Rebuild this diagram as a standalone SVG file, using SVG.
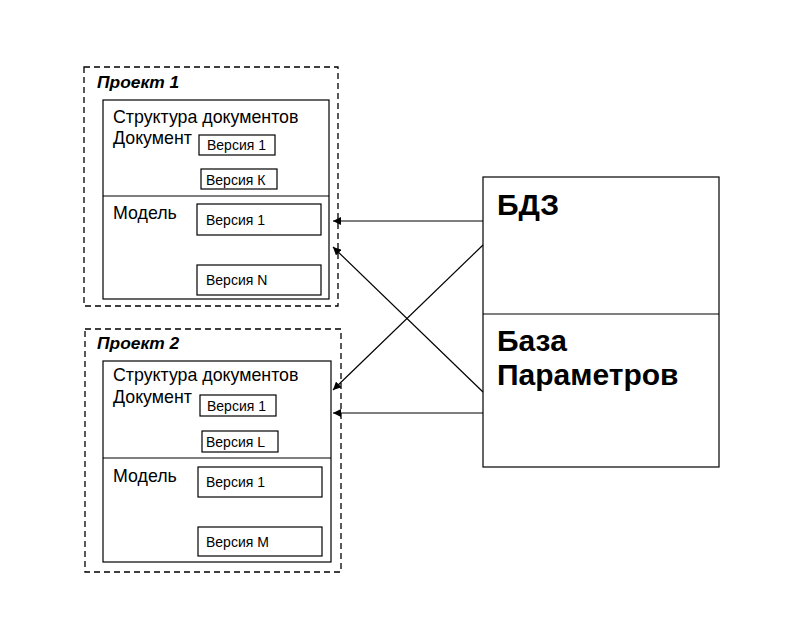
<svg xmlns="http://www.w3.org/2000/svg" width="800" height="627" viewBox="0 0 800 627">
<defs>
<style>
.dash{fill:none;stroke:#000;stroke-width:1.3;stroke-dasharray:6,4}
.box{fill:#fff;stroke:#000;stroke-width:1.2}
.ln{stroke:#000;stroke-width:1.2;fill:none}
.t{font-family:"Liberation Sans",Arial,sans-serif;fill:#000}
.ttl{font-size:17.4px;font-weight:bold;font-style:italic}
.lbl{font-size:17.8px}
.v{font-size:14px}
.big{font-size:30px;font-weight:bold}
.con{stroke:#000;stroke-width:1.2;fill:none;marker-end:url(#ah)}
</style>
<marker id="ah" viewBox="0 0 10 10" refX="10" refY="5" markerWidth="8" markerHeight="8" markerUnits="userSpaceOnUse" orient="auto">
<path d="M0,0 L10,5 L0,10 z" fill="#000"/>
</marker>
</defs>
<rect width="800" height="627" fill="#fff"/>
<g id="project1">
<rect class="dash" x="84" y="67" width="254" height="239"/>
<text class="t ttl" x="97" y="88">Проект 1</text>
<rect class="box" x="103" y="100" width="226" height="199"/>
<line class="ln" x1="103" y1="196" x2="329" y2="196"/>
<text class="t lbl" x="113" y="123">Структура документов</text>
<text class="t lbl" x="113" y="144">Документ</text>
<rect class="box" x="199" y="135" width="76" height="20"/>
<text class="t v" x="207" y="150">Версия 1</text>
<rect class="box" x="201" y="169" width="76" height="20"/>
<text class="t v" x="206" y="185">Версия К</text>
<text class="t lbl" x="113" y="219">Модель</text>
<rect class="box" x="197" y="204" width="124" height="31"/>
<text class="t v" x="206" y="225">Версия 1</text>
<rect class="box" x="197" y="265" width="124" height="30"/>
<text class="t v" x="206" y="285">Версия N</text>
</g>
<g id="project2">
<rect class="dash" x="85" y="329" width="256" height="243"/>
<text class="t ttl" x="97" y="349">Проект 2</text>
<rect class="box" x="103" y="361" width="228" height="201"/>
<line class="ln" x1="103" y1="458" x2="331" y2="458"/>
<text class="t lbl" x="113" y="381">Структура документов</text>
<text class="t lbl" x="113" y="403">Документ</text>
<rect class="box" x="200" y="395" width="76" height="21"/>
<text class="t v" x="207" y="411">Версия 1</text>
<rect class="box" x="202" y="431" width="76" height="21"/>
<text class="t v" x="206" y="447">Версия L</text>
<text class="t lbl" x="113" y="482">Модель</text>
<rect class="box" x="198" y="467" width="124" height="30"/>
<text class="t v" x="206" y="487">Версия 1</text>
<rect class="box" x="198" y="527" width="124" height="29"/>
<text class="t v" x="206" y="547">Версия M</text>
</g>
<g id="storage">
<rect class="box" x="483" y="177" width="236" height="290"/>
<line class="ln" x1="483" y1="314" x2="719" y2="314"/>
<text class="t big" x="497" y="215">БДЗ</text>
<text class="t big" x="497" y="351">База</text>
<text class="t big" x="497" y="385">Параметров</text>
</g>
<g id="connectors">
<line class="con" x1="483" y1="221" x2="333" y2="221"/>
<line class="con" x1="483" y1="245" x2="333" y2="390"/>
<line class="con" x1="483" y1="392" x2="333" y2="247"/>
<line class="con" x1="483" y1="413" x2="333" y2="413"/>
</g>
</svg>
